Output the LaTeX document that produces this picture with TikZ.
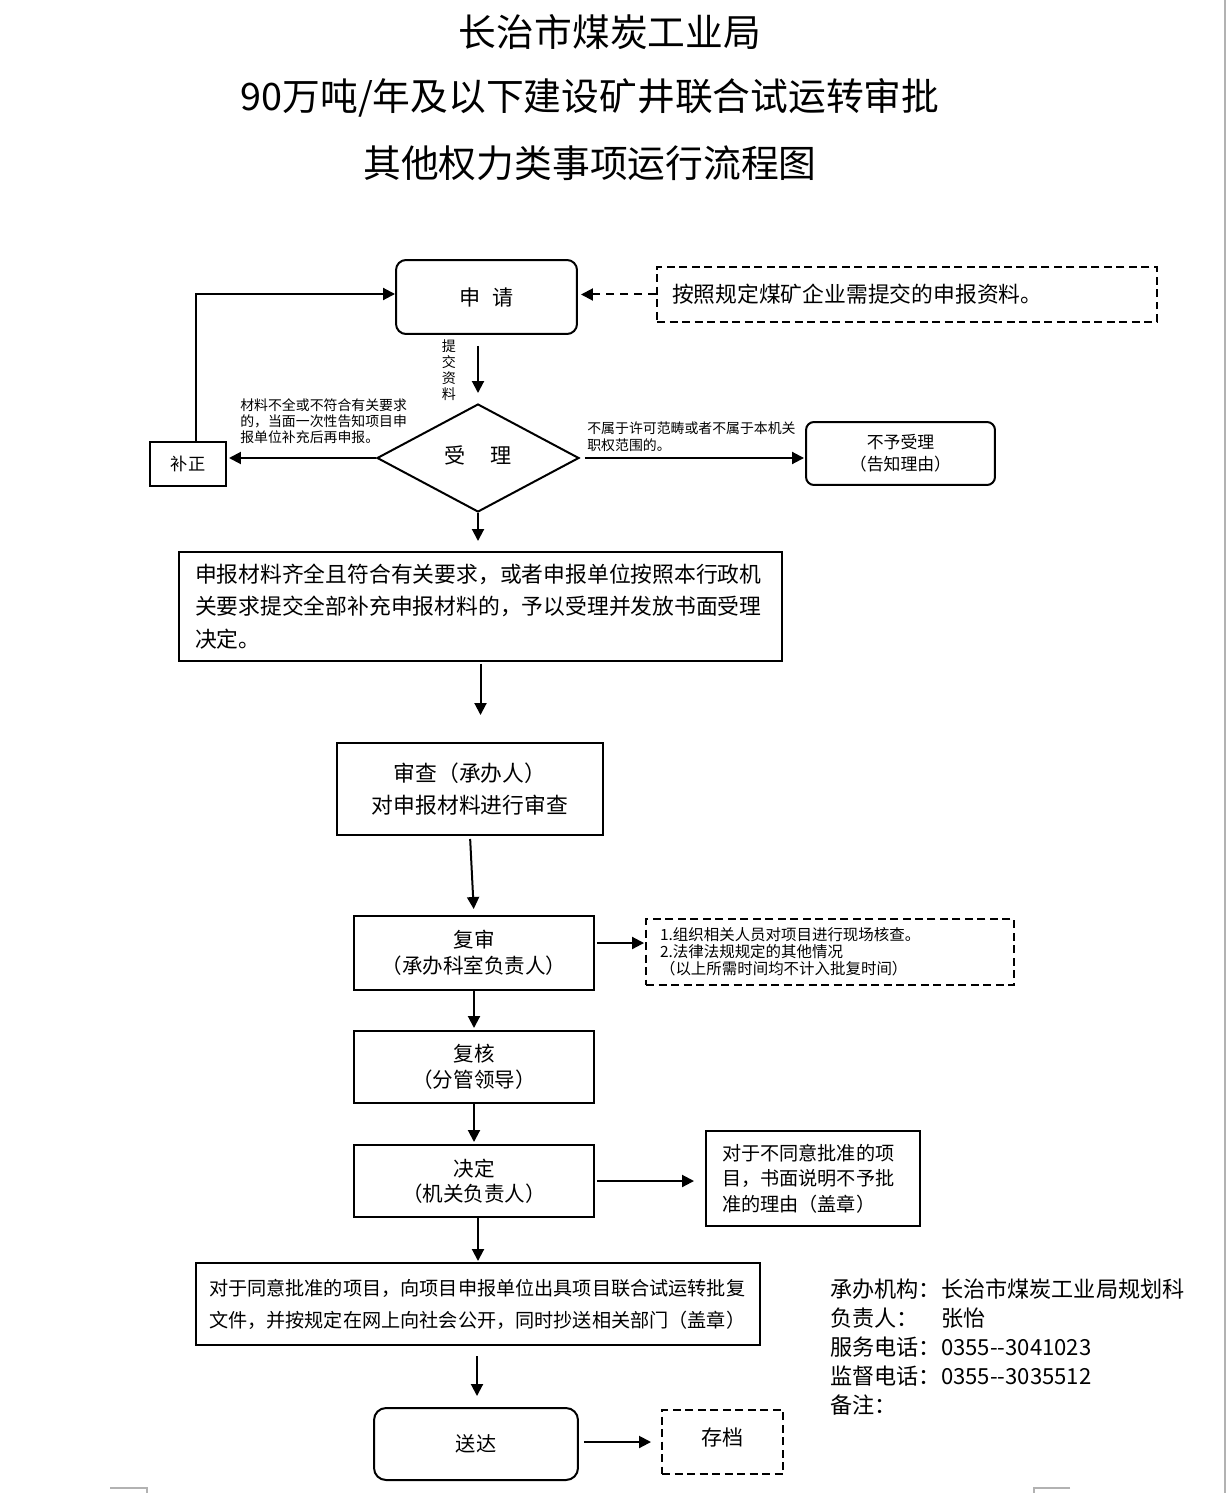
\documentclass[tikz,border=0pt]{standalone}
\usepackage{fontspec}
\setmainfont{Noto Sans CJK SC}
\usetikzlibrary{arrows.meta,shapes.geometric}
\newcommand\fsz[2]{\fontsize{#1pt}{#2pt}\selectfont}
\tikzset{
  box/.style={draw, line width=0.04cm, inner sep=0pt},
  rbox/.style={box, rounded corners=0.2cm},
  dbox/.style={draw, line width=0.04cm, dash pattern=on 0.16cm off 0.09cm, inner sep=0pt},
  arr/.style={-{Triangle[length=0.24cm,width=0.24cm]}, line width=0.04cm},
  lbl/.style={inner sep=0pt, align=left},
  gline/.style={draw=gray!60, line width=0.04cm},
}
\begin{document}
\begin{tikzpicture}[x=0.02cm,y=-0.02cm]
\fill[white] (0,0) rectangle (1227,1493);
\useasboundingbox (0,0) rectangle (1227,1493);

% titles
\node[inner sep=0pt, font=\fsz{21.5}{24}] (t1) at (610,32) {长治市煤炭工业局};
\node[inner sep=0pt, font=\fsz{21.5}{24}] (t2) at (590,98) {90万吨/年及以下建设矿井联合试运转审批};
\node[inner sep=0pt, font=\fsz{21.5}{24}] (t3) at (590,163) {其他权力类事项运行流程图};

% nodes
\node[rbox, minimum width=3.62cm, minimum height=1.48cm, font=\fsz{12}{14}] (sq) at (486.5,297) {申\hspace{0.55em}请};
\node[dbox, minimum width=10cm, minimum height=1.1cm, text width=9.4cm, inner xsep=0.3cm, align=left, font=\fsz{12.4}{14}] (zl) at (907,294.5) {按照规定煤矿企业需提交的申报资料。};
\node[diamond, draw, line width=0.04cm, minimum width=4.04cm, minimum height=2.16cm, inner sep=0pt, font=\fsz{12}{14}] (sl) at (478,458) {\raisebox{0.3em}{受\hspace{1.15em}理}};
\node[box, minimum width=1.52cm, minimum height=0.88cm, font=\fsz{9.8}{12}] (bz) at (188,464) {补正};
\node[rbox, rounded corners=0.16cm, minimum width=3.78cm, minimum height=1.26cm, align=center, font=\fsz{9.6}{12.5}] (bysl) at (900.5,453.5) {不予受理\\（告知理由）};
\node[box, minimum width=12.06cm, minimum height=2.18cm, text width=11.42cm, inner xsep=0.32cm, align=left, font=\fsz{12.4}{18.7}] (sbcl) at (480.5,606.5) {申报材料齐全且符合有关要求，或者申报单位按照本行政机\\关要求提交全部补充申报材料的，予以受理并发放书面受理\\决定。};
\node[box, minimum width=5.32cm, minimum height=1.84cm, align=center, font=\fsz{12.4}{18.7}] (sc) at (470,789) {审查（承办人）\\对申报材料进行审查};
\node[box, minimum width=4.8cm, minimum height=1.48cm, align=center, font=\fsz{11.7}{14.7}] (fs) at (474,953) {复审\\（承办科室负责人）};
\node[dbox, minimum width=7.36cm, minimum height=1.32cm, text width=6.8cm, inner xsep=0.28cm, align=left, font=\fsz{8.8}{9.6}] (fsn) at (830,952) {1.组织相关人员对项目进行现场核查。\\2.法律法规规定的其他情况\\（以上所需时间均不计入批复时间）};
\node[box, minimum width=4.8cm, minimum height=1.44cm, align=center, font=\fsz{11.7}{14.7}] (fh) at (474,1067) {复核\\（分管领导）};
\node[box, minimum width=4.8cm, minimum height=1.44cm, align=center, font=\fsz{11.7}{14.2}] (jd) at (474,1181) {决定\\（机关负责人）};
\node[box, minimum width=4.28cm, minimum height=1.9cm, text width=3.64cm, inner xsep=0.32cm, align=left, font=\fsz{10.9}{14.5}] (bty) at (813,1178.5) {对于不同意批准的项\\目，书面说明不予批\\准的理由（盖章）};
\node[box, minimum width=11.28cm, minimum height=1.64cm, text width=10.76cm, inner xsep=0.26cm, align=left, font=\fsz{10.9}{18.1}] (ty) at (478,1304) {对于同意批准的项目，向项目申报单位出具项目联合试运转批复\\文件，并按规定在网上向社会公开，同时抄送相关部门（盖章）};
\node[rbox, rounded corners=0.24cm, minimum width=4.08cm, minimum height=1.44cm, font=\fsz{11.5}{14}] (sd) at (476,1444) {送达};
\node[dbox, minimum width=2.42cm, minimum height=1.28cm, font=\fsz{12}{14}] (cd) at (722.5,1442) {\raisebox{0.5em}{存档}};

% labels
\node[lbl, align=center, font=\fsz{8}{9}] (tj) at (449,370) {提\\交\\资\\料};
\node[lbl, anchor=west, font=\fsz{7.9}{9.1}] (lb1) at (240,421) {材料不全或不符合有关要求\\的，当面一次性告知项目申\\报单位补充后再申报。};
\node[lbl, anchor=west, font=\fsz{7.9}{9.6}] (lb2) at (587,436.5) {不属于许可范畴或者不属于本机关\\职权范围的。};
\node[lbl, anchor=west, font=\fsz{12.6}{16.4}] (info) at (830,1347) {承办机构：长治市煤炭工业局规划科\\负责人：\hspace*{1em}张怡\\服务电话：0355-{}-3041023\\监督电话：0355-{}-3035512\\备注：};

% connectors
\draw[arr, shorten <=0.22cm, shorten >=0.2cm] (sq.south -| sl.north) -- (sl.north);
\draw[arr, dash pattern=on 0.16cm off 0.12cm, shorten >=0.06cm] (zl.west) -- (zl.west -| sq.east);
\draw[arr] ([xshift=0.16cm]bz.north) |- ([yshift=0.06cm]sq.west);
\draw[arr, shorten >=0.04cm] (sl.west) -- (sl.west -| bz.east);
\draw[arr, shorten <=0.1cm, shorten >=0.02cm] (sl.east) -- (sl.east -| bysl.west);
\draw[arr, shorten >=0.2cm] (sl.south) -- (sl.south |- sbcl.north);
\draw[arr, shorten <=0.04cm, shorten >=0.54cm] (sbcl.south) -- (sbcl.south |- sc.north);
\draw[arr, shorten <=0.06cm, shorten >=0.12cm] (sc.south) -- (fs.north);
\draw[arr, shorten <=0.04cm, shorten >=0.02cm] ([yshift=0.2cm]fs.east) -- ([yshift=0.2cm]fs.east -| fsn.west);
\draw[arr, shorten >=0.04cm] (fs.south) -- (fh.north);
\draw[arr, shorten >=0.04cm] (fh.south) -- (jd.north);
\draw[arr, shorten <=0.04cm, shorten >=0.22cm] (jd.east) -- (jd.east -| bty.west);
\draw[arr, shorten >=0.02cm] (ty.north |- jd.south) -- (ty.north);
\draw[arr, shorten <=0.2cm, shorten >=0.22cm] ([xshift=-0.02cm]ty.south) -- ([xshift=-0.02cm]ty.south |- sd.north);
\draw[arr, shorten <=0.1cm, shorten >=0.2cm] ([yshift=0.04cm]sd.east) -- ([yshift=0.04cm]sd.east -| cd.west);

% page marks
\draw[gline] (1225,0) -- (1225,1493);
\draw[gline, line width=0.03cm] (110,1488) -- (147,1488) -- (147,1493);
\draw[gline, line width=0.03cm] (1070,1488) -- (1034,1488) -- (1034,1493);
\end{tikzpicture}
\end{document}
